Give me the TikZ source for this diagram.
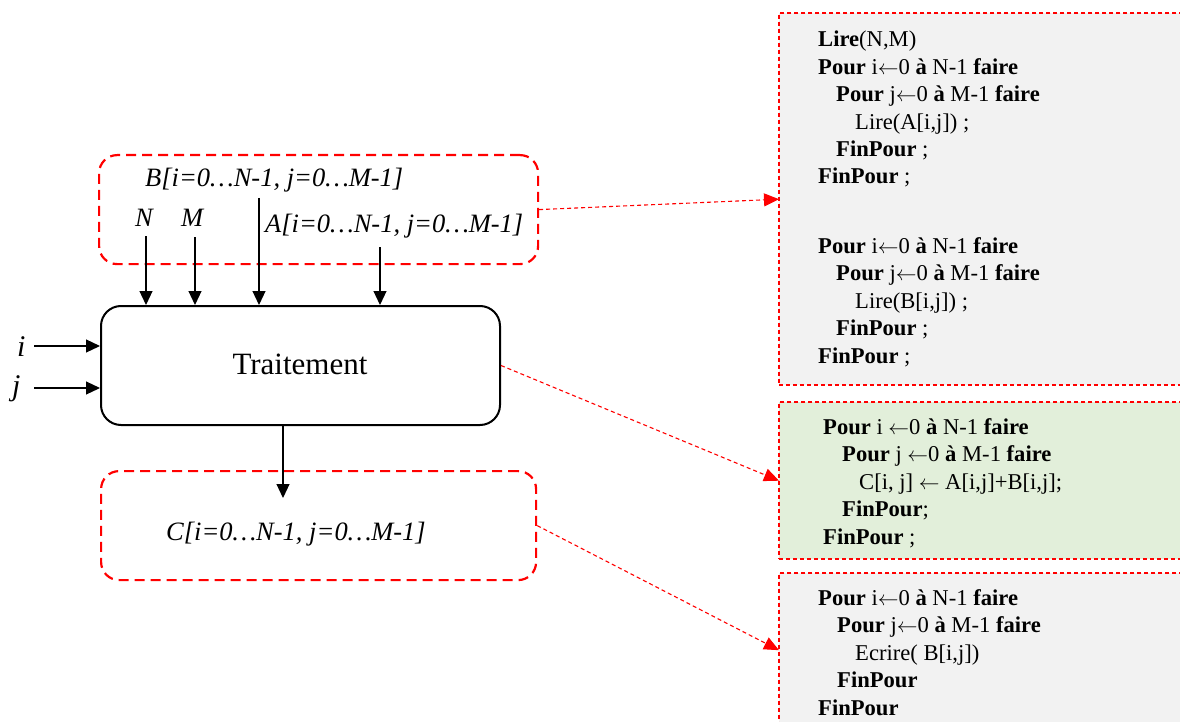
\documentclass[tikz,border=0pt]{standalone}
\usepackage{fontspec}
\setmainfont{Liberation Serif}
\newfontfamily\codefont{Liberation Serif}
\usetikzlibrary{arrows.meta}
\definecolor{codegray}{HTML}{F2F2F2}
\definecolor{codegreen}{HTML}{E2EFDA}
\newcommand\codeln[2]{\hbox{\hskip#1pt\relax #2}}
\newcommand\getsarrow{\ensuremath{\leftarrow}}
\begin{document}
\begin{tikzpicture}[x=1pt,y=-1pt,
  databox/.style={draw=red, line width=2.2pt, dash pattern=on 10pt off 6pt,
    rounded corners=18pt, anchor=north west, inner sep=0pt},
  procbox/.style={draw=black, line width=2pt, rounded corners=20pt,
    anchor=north west, inner sep=0pt},
  codebox/.style={anchor=north west, inner sep=0pt},
  codeframe/.style={draw=red, line width=1.6pt, dash pattern=on 4pt off 3pt},
  lbl/.style={anchor=base west, inner sep=0pt, font=\fontsize{26.5}{30}\selectfont\itshape},
  var/.style={anchor=base west, inner sep=0pt, font=\fontsize{30}{34}\selectfont\itshape},
  code/.style={anchor=base west, inner sep=0pt, font=\codefont\fontsize{22.6}{27.4}\selectfont},
  flow/.style={line width=1.2pt, -{Triangle[length=14pt,width=13pt]}},
  link/.style={red, line width=1.1pt, dash pattern=on 4pt off 3pt,
    -{Triangle[length=15pt,width=13pt]}}]
\useasboundingbox (0,0) rectangle (1180,722);

% code blocks on the right
\node[codebox, fill=codegray, minimum width=411pt, minimum height=372pt] (blk1) at (779,13) {};
\node[codebox, fill=codegreen, minimum width=411pt, minimum height=157pt] (blk2) at (779,402) {};
\node[codebox, fill=codegray, minimum width=411pt, minimum height=154pt] (blk3) at (779,573) {};

\node[code] (read1) at (818,47) {\vtop{\baselineskip=27.4pt
  \codeln{0}{\textbf{Lire}(N,M)}
  \codeln{0}{\textbf{Pour} i\getsarrow0 \textbf{à} N-1 \textbf{faire}}
  \codeln{18}{\textbf{Pour} j\getsarrow0 \textbf{à} M-1 \textbf{faire}}
  \codeln{37}{Lire(A[i,j]) ;}
  \codeln{18}{\textbf{FinPour} ;}
  \codeln{0}{\textbf{FinPour} ;}}};
\node[code] (read2) at (818,253) {\vtop{\baselineskip=27.5pt
  \codeln{0}{\textbf{Pour} i\getsarrow0 \textbf{à} N-1 \textbf{faire}}
  \codeln{18}{\textbf{Pour} j\getsarrow0 \textbf{à} M-1 \textbf{faire}}
  \codeln{37}{Lire(B[i,j]) ;}
  \codeln{18}{\textbf{FinPour} ;}
  \codeln{0}{\textbf{FinPour} ;}}};
\node[code] (sum) at (823,434) {\vtop{\baselineskip=27.5pt
  \codeln{0}{\textbf{Pour} i \getsarrow0 \textbf{à} N-1 \textbf{faire}}
  \codeln{19}{\textbf{Pour} j \getsarrow0 \textbf{à} M-1 \textbf{faire}}
  \codeln{36}{C[i, j] \getsarrow\ A[i,j]+B[i,j];}
  \codeln{19}{\textbf{FinPour};}
  \codeln{0}{\textbf{FinPour} ;}}};
\node[code] (write) at (818,605) {\vtop{\baselineskip=27.6pt
  \codeln{0}{\textbf{Pour} i\getsarrow0 \textbf{à} N-1 \textbf{faire}}
  \codeln{19}{\textbf{Pour} j\getsarrow0 \textbf{à} M-1 \textbf{faire}}
  \codeln{37}{Ecrire( B[i,j])}
  \codeln{19}{\textbf{FinPour}}
  \codeln{0}{\textbf{FinPour}}}};

% dashed red frames of the code blocks (open on the right)
\draw[codeframe] (blk1.north east) -- (blk1.north west) -- (blk1.south west);
\draw[codeframe] ([yshift=0.5pt]blk1.south west) -- ([yshift=0.5pt]blk1.south east);
\draw[codeframe] (blk2.north east) -- (blk2.north west) -- (blk2.south west);
\draw[codeframe] ([yshift=0.5pt]blk2.south west) -- ([yshift=0.5pt]blk2.south east);
\draw[codeframe] (blk3.north east) -- (blk3.north west) -- (blk3.south west);

% inputs, process and output
\node[databox, minimum width=439pt, minimum height=109pt] (inbox) at (98,154) {};
\node[procbox, minimum width=399pt, minimum height=119pt] (proc) at (100,305) {};
\node[font=\fontsize{31}{36}\selectfont, anchor=base, inner sep=0pt] (ptxt) at (300,374) {Traitement};
\node[databox, minimum width=435pt, minimum height=109pt] (outbox) at (100,470) {};

\node[lbl] (lB) at (145,187) {B[i=0…N-1, j=0…M-1]};
\node[lbl] (lN) at (135,226) {N};
\node[lbl] (lM) at (181,226) {M};
\node[lbl] (lA) at (265,233) {A[i=0…N-1, j=0…M-1]};
\node[lbl] (lC) at (166,540) {C[i=0…N-1, j=0…M-1]};
\node[var] (li) at (17,356) {i};
\node[var] (lj) at (12,395) {j};

\coordinate (sN) at (146,236);
\coordinate (sM) at (195,237);
\coordinate (sB) at (259,198);
\coordinate (sA) at (380,247);
\coordinate (si) at (34,346);
\coordinate (sj) at (34,388);
\coordinate (eC) at (283,498);

\draw[flow] (sN) -- (sN |- proc.north);
\draw[flow] (sM) -- (sM |- proc.north);
\draw[flow] (sB) -- (sB |- proc.north);
\draw[flow] (sA) -- (sA |- proc.north);
\draw[flow] (si) -- (si -| proc.west);
\draw[flow] (sj) -- (sj -| proc.west);
\draw[flow] (proc.south -| eC) -- (eC);

% links to the code blocks
\draw[link] (inbox.east) -- (blk1.west);
\draw[link] (proc.east) -- (blk2.west);
\draw[link] (outbox.east) -- (blk3.west);
\end{tikzpicture}
\end{document}
